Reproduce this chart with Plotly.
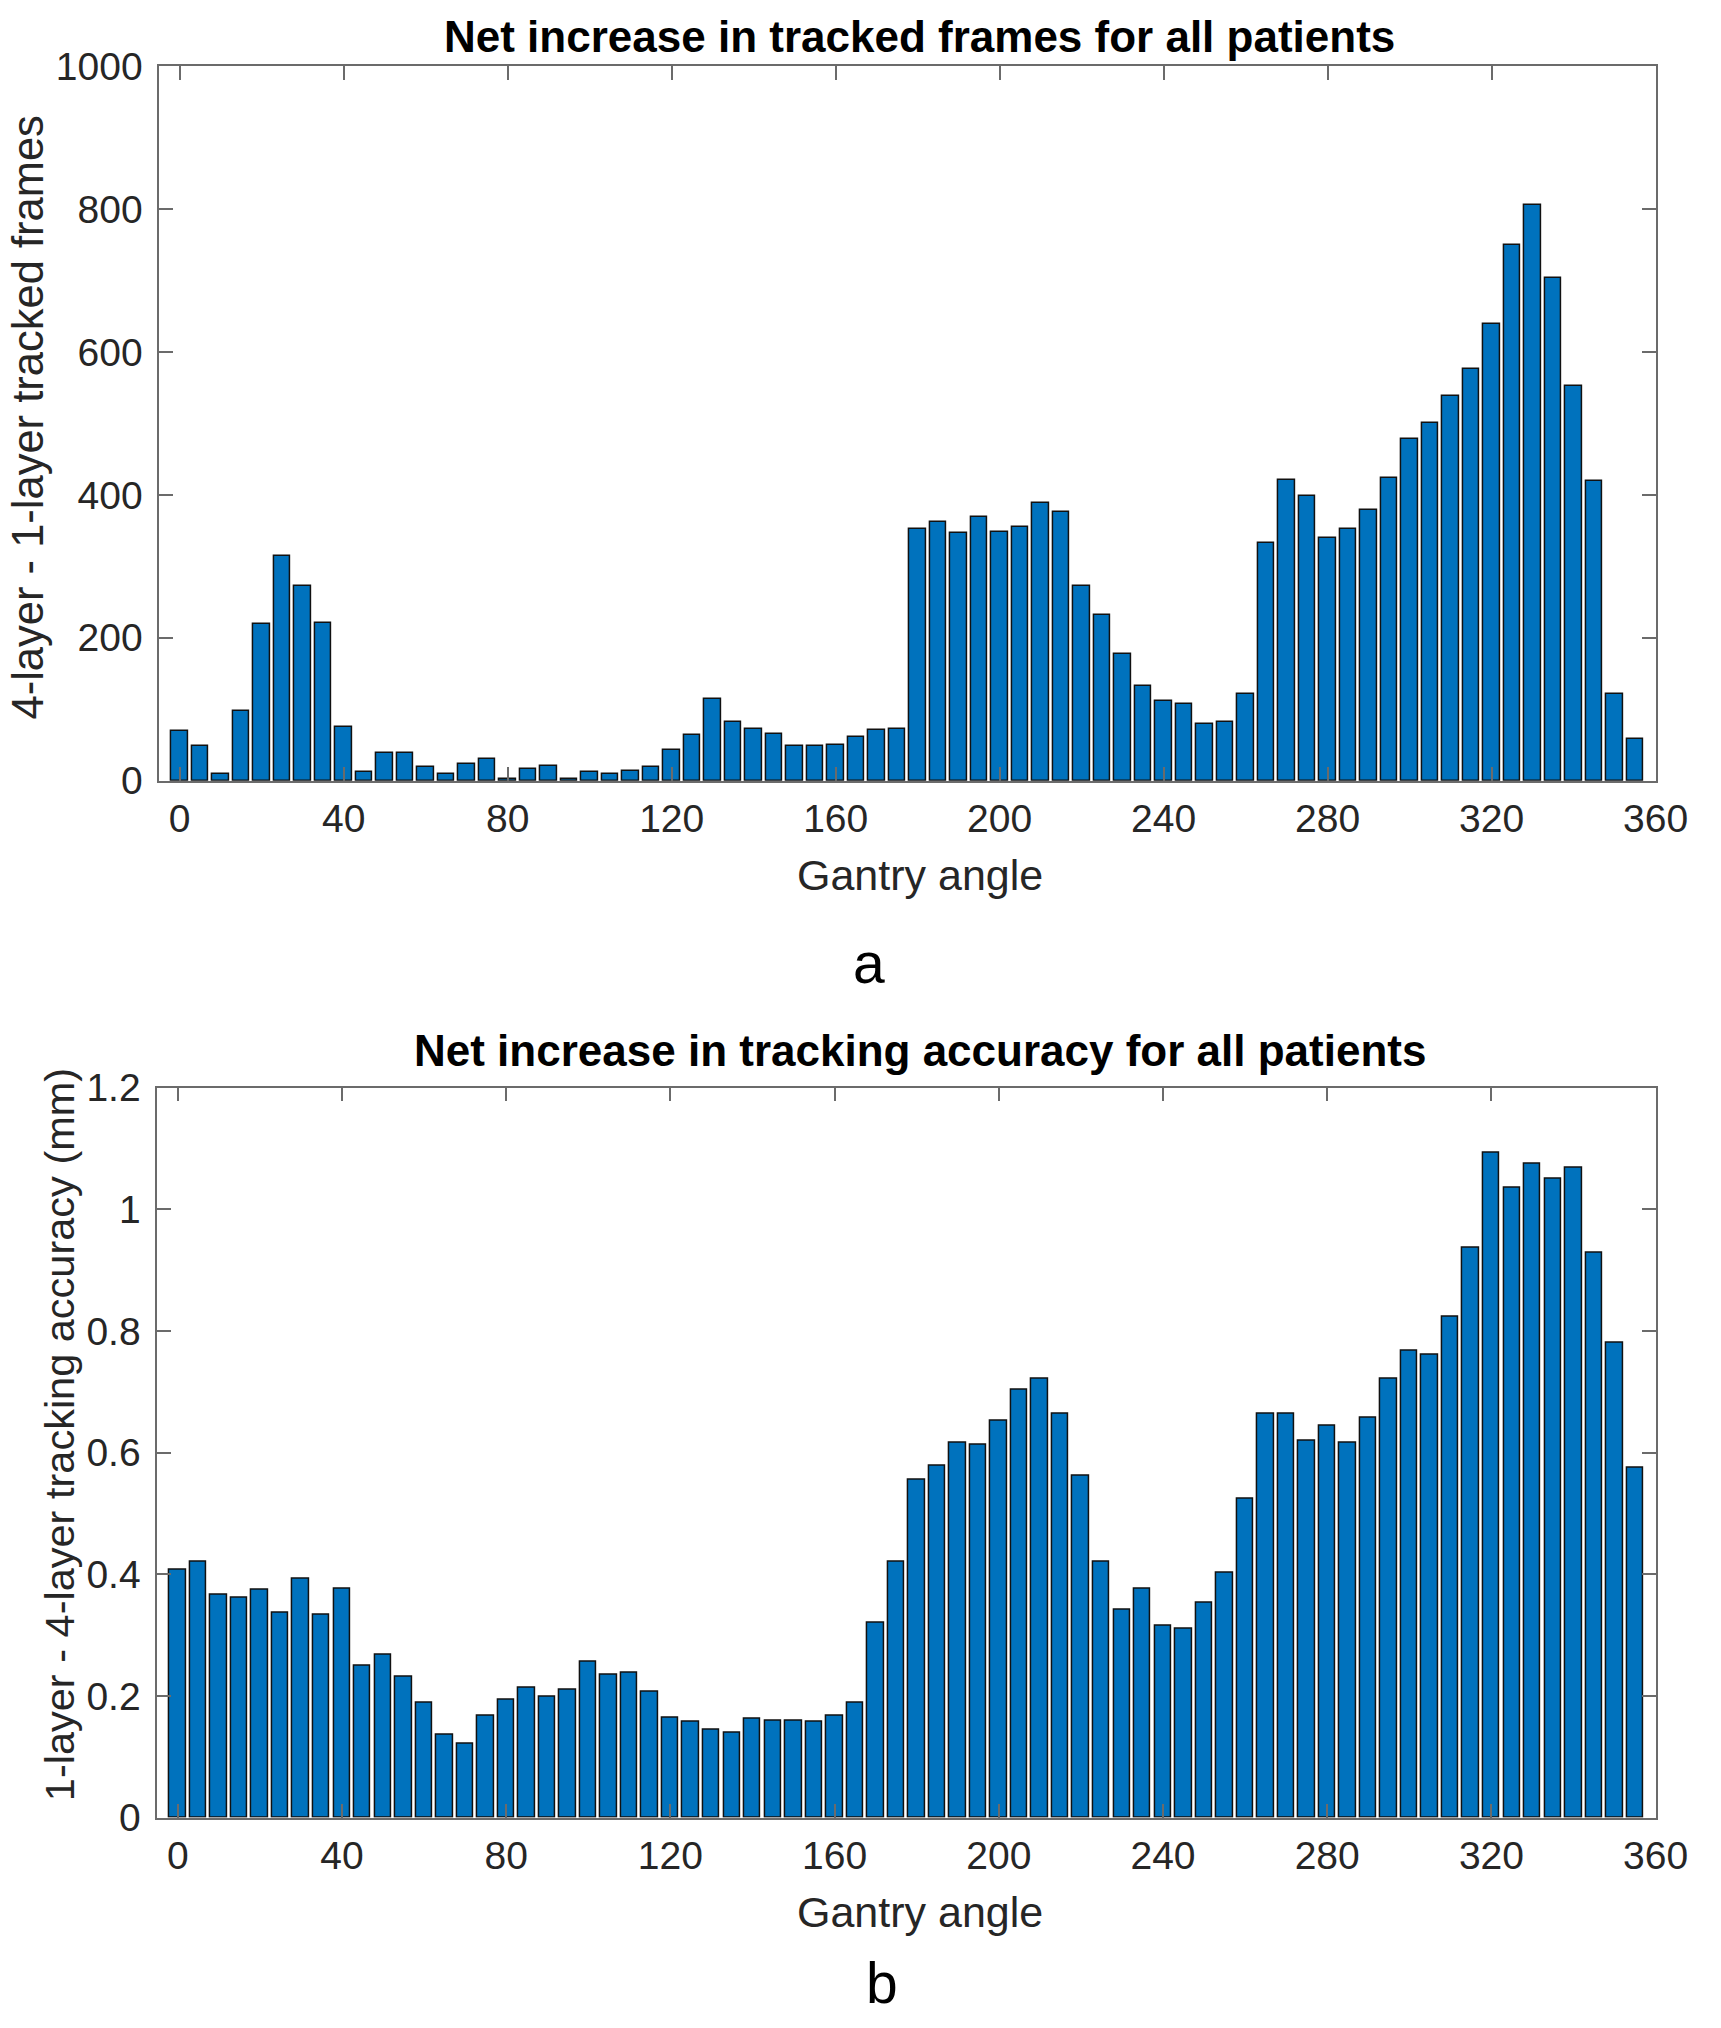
import plotly.graph_objects as go

# ---- data ----
angles = list(range(0, 360, 5))

tracked_frames = [69, 49, 10, 98, 219, 315, 273, 221, 75, 12,
                  39, 39, 19, 10, 23, 31, 3, 16, 21, 3,
                  12, 10, 14, 19, 43, 64, 114, 82, 73, 66,
                  48, 48, 50, 61, 71, 73, 352, 362, 346, 369,
                  348, 355, 389, 376, 273, 232, 178, 132, 112, 107,
                  80, 82, 121, 333, 421, 398, 339, 352, 379, 423,
                  478, 500, 539, 576, 639, 749, 805, 703, 553, 419,
                  121, 59]

tracking_accuracy = [0.407, 0.420, 0.367, 0.361, 0.374, 0.336, 0.393, 0.334, 0.376, 0.249,
                     0.268, 0.231, 0.189, 0.136, 0.122, 0.167, 0.193, 0.213, 0.198, 0.211,
                     0.257, 0.235, 0.238, 0.207, 0.164, 0.158, 0.144, 0.140, 0.162, 0.160,
                     0.160, 0.158, 0.167, 0.189, 0.321, 0.420, 0.556, 0.578, 0.617, 0.613,
                     0.652, 0.703, 0.722, 0.664, 0.562, 0.420, 0.342, 0.377, 0.316, 0.311,
                     0.353, 0.403, 0.524, 0.664, 0.664, 0.620, 0.644, 0.616, 0.657, 0.721,
                     0.767, 0.761, 0.824, 0.937, 1.093, 1.036, 1.075, 1.050, 1.069, 0.929,
                     0.780, 0.576]

x_ticks = [0, 40, 80, 120, 160, 200, 240, 280, 320, 360]
y1_ticks = [0, 200, 400, 600, 800, 1000]
y2_ticks = [0, 0.2, 0.4, 0.6, 0.8, 1.0, 1.2]
y2_ticktext = ["0", "0.2", "0.4", "0.6", "0.8", "1", "1.2"]

title_top = "Net increase in tracked frames for all patients"
title_bottom = "Net increase in tracking accuracy for all patients"
ylabel_top = "4-layer - 1-layer tracked frames"
ylabel_bottom = "1-layer - 4-layer tracking accuracy (mm)"
xlabel = "Gantry angle"

# ---- figure ----
W, H = 1721, 2028
BAR_COLOR = "#0072BD"
FONT = "Liberation Sans, Arial, sans-serif"
TXT = "#262626"
AX = "#6b6b6b"

# calibration of the photographed page vs. layout pixels
SX, CX = 0.984, -1.7
SY, CY = 0.979, 20.05


def page_x(X):
    return (X - CX) / SX


def page_y(Y):
    return (Y - CY) / SY


def fx(v):  # page pixel -> paper x
    return v / W


def fy(v):  # page pixel -> paper y
    return 1 - v / H


fig = go.Figure()
fig.add_trace(go.Bar(x=angles, y=tracked_frames, width=4,
                     marker=dict(color=BAR_COLOR, line=dict(color="#111111", width=1.5)),
                     xaxis="x", yaxis="y", showlegend=False))
fig.add_trace(go.Bar(x=angles, y=tracking_accuracy, width=4,
                     marker=dict(color=BAR_COLOR, line=dict(color="#111111", width=1.5)),
                     xaxis="x2", yaxis="y2", showlegend=False))

axis_common = dict(showline=True, linecolor=AX, linewidth=1.5, mirror="ticks",
                   ticks="inside", ticklen=14, tickwidth=1.5, tickcolor=AX,
                   showgrid=False, zeroline=False,
                   tickfont=dict(family=FONT, size=39, color=TXT))

RIGHT = 1688
fig.update_layout(
    width=W, height=H,
    margin=dict(l=0, r=0, t=0, b=0),
    paper_bgcolor="white", plot_bgcolor="white",
    bargap=0,
    xaxis=dict(domain=[fx(page_x(158)), fx(RIGHT)], range=[-5, 360], tickvals=x_ticks,
               anchor="y", ticklabelstandoff=3, **axis_common),
    yaxis=dict(domain=[fy(page_y(780)), fy(46)], range=[0, 1000], tickvals=y1_ticks,
               anchor="x", ticklabelstandoff=7, **axis_common),
    xaxis2=dict(domain=[fx(page_x(156)), fx(RIGHT)], range=[-5, 360], tickvals=x_ticks,
                anchor="y2", ticklabelstandoff=3, **axis_common),
    yaxis2=dict(domain=[fy(page_y(1817)), fy(page_y(1087))], range=[0, 1.2], tickvals=y2_ticks,
                ticktext=y2_ticktext, anchor="x2", ticklabelstandoff=7, **axis_common),
)

annots = [
    dict(text=f"<b>{title_top}</b>", x=page_x(921), y=16, size=44, color="black", angle=0),
    dict(text=f"<b>{title_bottom}</b>", x=page_x(921), y=1052, size=44, color="black", angle=0),
    dict(text=xlabel, x=page_x(921), y=page_y(874), size=43, color=TXT, angle=0),
    dict(text=xlabel, x=page_x(921), y=page_y(1911), size=43, color=TXT, angle=0),
    dict(text=ylabel_top, x=page_x(26), y=page_y(417), size=43.5, color=TXT, angle=-90),
    dict(text=ylabel_bottom, x=page_x(58), y=page_y(1434), size=41.5, color=TXT, angle=-90),
    dict(text="a", x=page_x(870), y=page_y(962), size=57, color="black", angle=0),
    dict(text="b", x=page_x(883), y=2004, size=57, color="black", angle=0),
]
for a in annots:
    fig.add_annotation(text=a["text"], x=fx(a["x"]), y=fy(a["y"]), xref="paper", yref="paper",
                       xanchor="center", yanchor="middle", showarrow=False,
                       textangle=a["angle"],
                       font=dict(family=FONT, size=a["size"], color=a["color"]))

fig.write_html(
    "out.html",
    config={"displayModeBar": False},
    post_script="document.documentElement.style.overflow='hidden';"
                "document.body.style.margin='0';document.body.style.overflow='hidden';",
)
